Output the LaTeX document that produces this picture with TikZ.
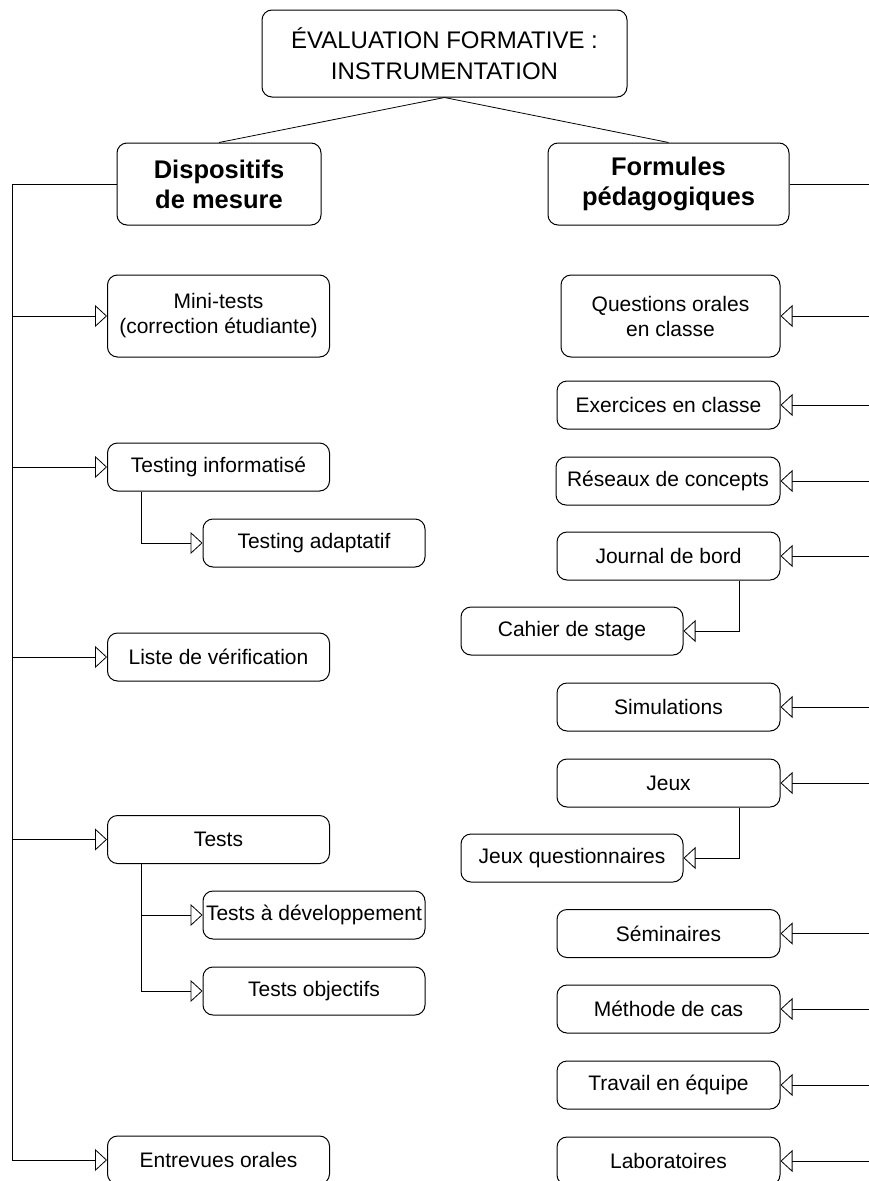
\documentclass[tikz,border=0pt]{standalone}
\usepackage{fontspec}
\setmainfont{Liberation Sans}
\usepackage{tikz}
\usetikzlibrary{arrows.meta,calc}

\tikzset{
	box/.style={draw, line width=1pt, rounded corners=10pt, inner sep=0pt, align=center,
		font=\fontsize{21}{25}\selectfont},
	onebox/.style={box, minimum width=222pt, minimum height=48pt},
	twobox/.style={box, minimum width=222pt, minimum height=82pt},
	headbox/.style={box, minimum height=82pt, font=\fontsize{25.5}{30}\selectfont\bfseries},
	link/.style={draw, line width=0.8pt},
	arr/.style={link, -{Triangle[open, length=12pt, width=22pt]}}
}

\begin{document}
\begin{tikzpicture}[x=1pt,y=-1pt]
	\useasboundingbox (0,0) rectangle (869,1181);

	% titre et deux branches
	\node[box, minimum width=365pt, minimum height=87pt, font=\fontsize{24}{31}\selectfont] (top) at (444.5,53.5) {ÉVALUATION FORMATIVE :\\INSTRUMENTATION};
	\node[headbox, minimum width=204pt] (disp) at (219,184) {Dispositifs\\de mesure};
	\node[headbox, minimum width=241pt] (form) at (668.5,184) {Formules\\pédagogiques};
	\draw[link] (top.south) -- (disp.north);
	\draw[link] (top.south) -- (form.north);

	\coordinate (lbus) at (12,184);
	\coordinate (rbus) at (869,184);

	% dispositifs de mesure
	\node[twobox] (mini) at (218.5,316) {Mini-tests\\(correction étudiante)};
	\node[onebox] (tinf) at (218.5,467) {Testing informatisé};
	\node[onebox] (tadp) at (314,543) {Testing adaptatif};
	\node[onebox] (liste) at (218.5,657) {Liste de vérification};
	\node[onebox] (tests) at (218.5,839.5) {Tests};
	\node[onebox] (tdev) at (314,915) {\makebox[222pt]{Tests à développement}};
	\node[onebox] (tobj) at (314,991) {Tests objectifs};
	\node[onebox] (entr) at (218.5,1160) {Entrevues orales};

	\draw[link] (disp.west) -- (lbus) -- (lbus |- entr.west);
	\foreach \n in {mini,tinf,liste,tests,entr}
		\draw[arr] (lbus |- \n.west) -- (\n.west);
	\draw[arr] ([xshift=34pt]tinf.south west) |- (tadp.west);
	\draw[arr] ([xshift=34pt]tests.south west) |- (tdev.west);
	\draw[arr] ([xshift=34pt]tests.south west) |- (tobj.west);

	% formules pedagogiques
	\node[twobox, minimum width=219pt] (quest) at (670.5,316) {Questions orales\\en classe};
	\node[onebox, minimum width=223pt] (exer) at (668.5,405) {Exercices en classe};
	\node[onebox, minimum width=224pt] (res) at (668,481) {Réseaux de concepts};
	\node[onebox, minimum width=223pt] (jour) at (668.5,556) {Journal de bord};
	\node[onebox] (cah) at (572,631) {Cahier de stage};
	\node[onebox, minimum width=223pt] (simu) at (668.5,707) {Simulations};
	\node[onebox, minimum width=223pt] (jeux) at (668.5,783) {Jeux};
	\node[onebox] (jq) at (572,858) {Jeux questionnaires};
	\node[onebox, minimum width=223pt] (sem) at (668.5,933.5) {Séminaires};
	\node[onebox, minimum width=223pt] (meth) at (668.5,1009) {Méthode de cas};
	\node[onebox, minimum width=223pt] (trav) at (668.5,1085) {Travail en équipe};
	\node[onebox, minimum width=223pt] (labo) at (668.5,1161) {Laboratoires};

	\draw[link] (form.east) -- (rbus);
	\foreach \n in {quest,exer,res,jour,simu,jeux,sem,meth,trav,labo}
		\draw[arr] (rbus |- \n.east) -- (\n.east);
	\draw[arr] ([xshift=-41pt]jour.south east) |- (cah.east);
	\draw[arr] ([xshift=-41pt]jeux.south east) |- (jq.east);
\end{tikzpicture}
\end{document}
